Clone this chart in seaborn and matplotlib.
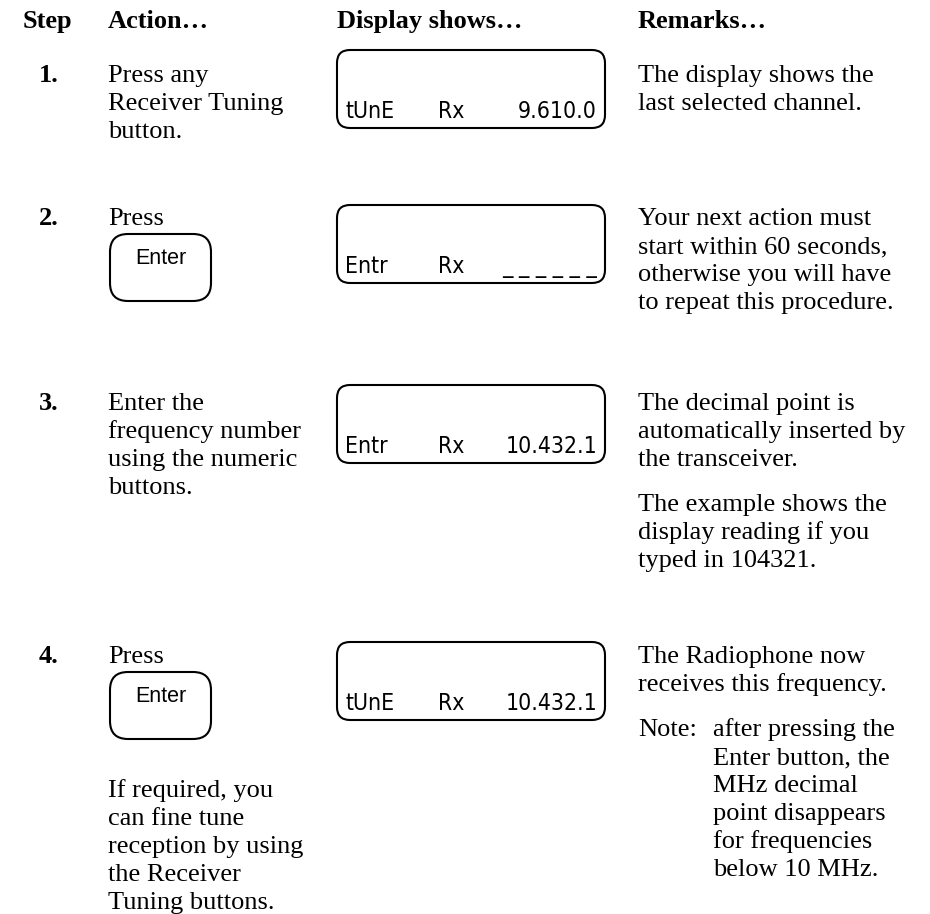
import matplotlib
matplotlib.use("Agg")
import matplotlib.pyplot as plt
import seaborn as sns
from matplotlib.patches import FancyBboxPatch

# plain white page, no grid
sns.set_theme(style="white")
plt.rcParams['font.family'] = ['Liberation Serif', 'DejaVu Serif']

# --- content ---
headers = ["Step", "Action…", "Display shows…", "Remarks…"]
step_labels = ["1.", "2.", "3.", "4."]
actions = [
    ["Press any", "Receiver Tuning", "button."],
    ["Press"],
    ["Enter the", "frequency number", "using the numeric", "buttons."],
    ["Press"],
]
button_labels = [None, "Enter", None, "Enter"]
after_button = [
    [],
    [],
    [],
    ["If required, you", "can fine tune", "reception by using",
     "the Receiver", "Tuning buttons."],
]
display_modes = ["tUnE", "Entr", "Entr", "tUnE"]
display_rx = ["Rx", "Rx", "Rx", "Rx"]
display_values = ["9.610.0", "_ _ _ _ _ _", "10.432.1", "10.432.1"]
remarks = [
    [["The display shows the", "last selected channel."]],
    [["Your next action must", "start within 60 seconds,",
      "otherwise you will have", "to repeat this procedure."]],
    [["The decimal point is", "automatically inserted by", "the transceiver."],
     ["The example shows the", "display reading if you", "typed in 104321."]],
    [["The Radiophone now", "receives this frequency."]],
]
note_label = "Note:"
note_lines = ["after pressing the", "Enter button, the", "MHz decimal",
              "point disappears", "for frequencies", "below 10 MHz."]

# --- layout (pixels, y downwards) ---
W, H = 930, 914
FS = 19
LINE = 28
PARA = 17
X_STEP_HEAD, X_STEP = 23, 39
X_ACTION, X_DISPLAY, X_REMARK, X_NOTE = 108, 337, 638, 713
HEAD_Y = 28
ROW_Y = [82, 225, 410, 663]
BOX_TOP = [50, 205, 385, 642]
BOX_W, BOX_H = 268, 78
BTN_W, BTN_H = 101, 67

fig = plt.figure(figsize=(W / 100, H / 100), dpi=100)
ax = fig.add_axes([0, 0, 1, 1])
ax.set_xlim(0, W)
ax.set_ylim(H, 0)
ax.axis('off')


def put(x, y, s, **kw):
    kw.setdefault('fontsize', FS)
    ax.text(x, y, s, va='baseline', ha=kw.pop('ha', 'left'), color='black', **kw)


def lines_at(x, y, lines):
    for i, s in enumerate(lines):
        put(x, y + i * LINE, s)
    return y + len(lines) * LINE


for x, h in zip([X_STEP_HEAD, X_ACTION, X_DISPLAY, X_REMARK], headers):
    put(x, HEAD_Y, h, fontweight='bold')

disp_font = dict(family='DejaVu Sans', fontweight='light',
                 fontstretch='condensed', fontsize=16.5)

for i in range(len(step_labels)):
    y0 = ROW_Y[i]
    put(X_STEP, y0, step_labels[i], fontweight='bold')

    y = lines_at(X_ACTION, y0, actions[i])
    if button_labels[i]:
        top = y - LINE + 9
        ax.add_patch(FancyBboxPatch((X_ACTION + 2, top), BTN_W, BTN_H,
                                    boxstyle="round,pad=0,rounding_size=18",
                                    fc='white', ec='black', lw=1.5))
        put(X_ACTION + 2 + BTN_W / 2, top + 30, button_labels[i],
            ha='center', family='Liberation Sans', fontsize=15.5)
        y = top + BTN_H + 58
    if after_button[i]:
        lines_at(X_ACTION, y, after_button[i])

    bt = BOX_TOP[i]
    ax.add_patch(FancyBboxPatch((X_DISPLAY, bt), BOX_W, BOX_H,
                                boxstyle="round,pad=0,rounding_size=13",
                                fc='white', ec='black', lw=1.5))
    put(X_DISPLAY + 8, bt + 68, display_modes[i], **disp_font)
    put(438, bt + 68, display_rx[i], **disp_font)
    put(X_DISPLAY + BOX_W - 8, bt + 68, display_values[i], ha='right', **disp_font)

    y = y0
    for para in remarks[i]:
        y = lines_at(X_REMARK, y, para) + PARA

# hanging note under step 4 remarks
put(X_REMARK, y, note_label)
lines_at(X_NOTE, y, note_lines)

fig.savefig('out.png', dpi=100)
